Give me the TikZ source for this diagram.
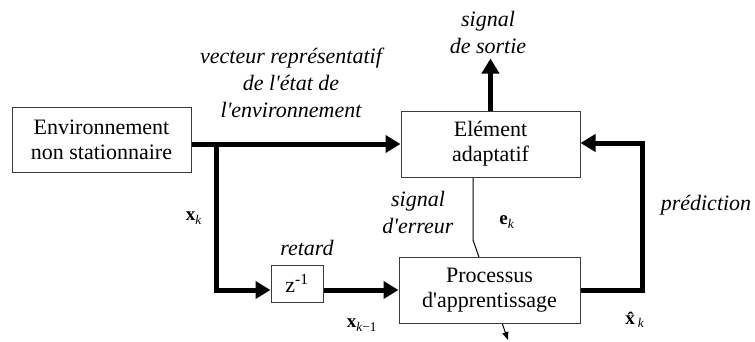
\documentclass[tikz,border=0pt]{standalone}
\usepackage{fontspec}
\setmainfont{Liberation Serif}
\usetikzlibrary{calc,arrows.meta,backgrounds}
\definecolor{boxColor}{RGB}{60,60,60}
\newcommand{\blockfont}{\fontsize{22}{25}\selectfont}
\newcommand{\labelfont}{\fontsize{22}{27}\selectfont\itshape}
\newcommand{\varfont}{\fontsize{19}{21}\selectfont}
\newcommand{\apos}{\textquotesingle}

\begin{document}
\begin{tikzpicture}[x=1pt, y=-1pt,
    block/.style={draw=boxColor, line width=1pt, fill=white, align=center, font=\blockfont, inner sep=0pt},
    lbl/.style={align=center, font=\labelfont, inner sep=0pt},
    var/.style={font=\varfont, inner sep=0pt},
    flow/.style={line width=5pt, -{Triangle[length=15pt, width=17pt]}},
    adj/.style={line width=1pt, -{Triangle[length=8pt, width=6pt]}}
  ]
  \useasboundingbox (0,0) rectangle (755,341);

  % blocks
  \node[block, minimum width=179pt, minimum height=65pt] (env) at (101.5,139.5) {Environnement\\non stationnaire};
  \node[block, minimum width=179pt, minimum height=66pt] (elem) at (490.5,144) {Elément\\adaptatif};
  \node[block, minimum width=181pt, minimum height=66pt] (proc) at (489.5,290) {Processus\\d\apos apprentissage};
  \node[block, minimum width=52pt, minimum height=37pt] (zdel) at (297,283.5) {z\textsuperscript{-1}};

  \coordinate (split) at ($(env.east |- elem.west)+(25,0)$);
  \coordinate (outEnd) at ($(elem.north)+(0,-52)$);
  \coordinate (fbk) at (642,143);
  \coordinate (adjTop) at ($(elem.south)+(-17.5,0)$);
  \coordinate (adjBend) at (473,240);
  \coordinate (adjEnd) at (508,340);

  % connectors
  \draw[flow] (env.east |- elem.west) -- (elem.west);
  \draw[flow] (split) |- (zdel.west |- proc.west);
  \draw[flow] (zdel.east |- proc.west) -- (proc.west);
  \draw[flow] (elem.north) -- (outEnd);
  \draw[flow] (proc.east) -| (fbk) -- (fbk -| elem.east);
  \begin{scope}[on background layer]
    \draw[adj] (adjTop) -- (adjBend) -- (adjEnd);
  \end{scope}

  % labels
  \node[lbl] (vecLbl) at (291,83) {vecteur représentatif\\de l\apos état de\\l\apos environnement};
  \node[lbl] (outLbl) at (488,32) {signal\\de sortie};
  \node[lbl] (errLbl) at (418,212) {signal\\d\apos erreur};
  \node[lbl] (delLbl) at (307,248) {retard};
  \node[lbl] (predLbl) at (706,205) {prédiction};
  \node[var] (xk) at (194,218) {\textbf{x}\textsubscript{\textit{k}}};
  \node[var] (ek) at (507,222) {\textbf{e}\textsubscript{\textit{k}}};
  \node[var] (xkm) at (362,325) {\textbf{x}\textsubscript{\textit{k}−1}};
  \node[var] (xhat) at (635,320) {\textbf{\^{x}}\textsubscript{\textit{k}}};
\end{tikzpicture}
\end{document}
